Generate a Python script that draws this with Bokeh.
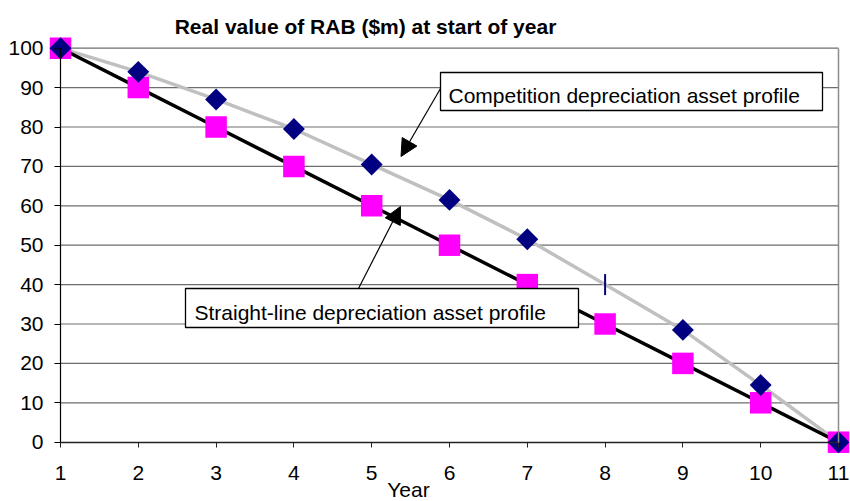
import math
from bokeh.plotting import figure
from bokeh.models import (Range1d, LinearAxis, FixedTicker, Label, Arrow, NormalHead,
                          BoxAnnotation)
from bokeh.embed import file_html
from bokeh.resources import INLINE

# ---- data ----
years = [1, 2, 3, 4, 5, 6, 7, 8, 9, 10, 11]
competition = [100, 94, 87, 79.5, 70.5, 61.5, 51.5, 40, 28.5, 14.5, 0]
straight_line = [100, 90, 80, 70, 60, 50, 40, 30, 20, 10, 0]
y_ticks = [0, 10, 20, 30, 40, 50, 60, 70, 80, 90, 100]
title_text = "Real value of RAB ($m) at start of year"
x_label = "Year"
comp_label = "Competition depreciation asset profile"
sl_label = "Straight-line depreciation asset profile"

FONT = "Liberation Sans"
NAVY = "#000080"
MAGENTA = "#FF00FF"
GRID = "#6e6e6e"

W, H = 850, 501

# canvas-pixel -> data helpers (for annotation placement and ranges only)
PX_X = 77.8
PX_Y = 3.94
X0_PX = 60.0
Y0_PX = 441.7


def dx(px):
    return years[0] + (px - X0_PX) / PX_X


def dy(py):
    return y_ticks[0] + (Y0_PX - py) / PX_Y


p = figure(width=W, height=H,
           x_range=Range1d(dx(0), dx(W)), y_range=Range1d(dy(H), dy(0)),
           output_backend="svg", toolbar_location=None,
           x_axis_location=None, y_axis_location=None, title_location=None,
           min_border_left=0, min_border_right=0, min_border_top=0, min_border_bottom=0,
           outline_line_color=None, background_fill_color="white", border_fill_color="white")
p.xgrid.visible = False
p.ygrid.visible = False

# axes at fixed locations
yax = LinearAxis(fixed_location=years[0], bounds=(y_ticks[0], y_ticks[-1]),
                 ticker=FixedTicker(ticks=y_ticks, minor_ticks=[]))
yax.axis_line_color = "black"
yax.axis_line_width = 1.2
yax.major_tick_line_color = "black"
yax.major_tick_out = 6
yax.major_tick_in = 0
yax.minor_tick_out = 0
yax.minor_tick_in = 0
yax.major_label_standoff = 11
yax.major_label_text_font = FONT
yax.major_label_text_font_size = "21px"
yax.major_label_text_color = "black"
p.add_layout(yax, "left")

xax = LinearAxis(fixed_location=y_ticks[0], bounds=(years[0], years[-1]),
                 ticker=FixedTicker(ticks=years, minor_ticks=[]))
xax.axis_line_color = "#222222"
xax.axis_line_width = 1.5
xax.major_tick_line_color = "#222222"
xax.major_tick_out = 5
xax.major_tick_in = 0
xax.minor_tick_out = 0
xax.minor_tick_in = 0
xax.major_label_standoff = 19
xax.major_label_text_font = FONT
xax.major_label_text_font_size = "21px"
xax.major_label_text_color = "black"
p.add_layout(xax, "below")

rax = LinearAxis(fixed_location=years[-1], bounds=(y_ticks[0], y_ticks[-1]),
                 ticker=FixedTicker(ticks=[], minor_ticks=[]))
rax.axis_line_color = "#8c8c8c"
rax.axis_line_width = 1.5
rax.major_tick_out = 0
rax.major_tick_in = 0
rax.minor_tick_out = 0
rax.minor_tick_in = 0
rax.major_label_text_alpha = 0
p.add_layout(rax, "right")

# horizontal gridlines
gy = y_ticks[1:]
p.segment(x0=[years[0]] * len(gy), x1=[years[-1]] * len(gy), y0=gy, y1=gy,
          line_color=GRID, line_width=1.2)

# series lines
p.line(years, competition, line_color="#C0C0C0", line_width=3.5)
p.line(years, straight_line, line_color="black", line_width=3.5)

# markers
p.scatter(years, straight_line, marker="square", size=21.5,
          fill_color=MAGENTA, line_color=None)

glitch = {7}
cx = [years[i] for i in range(len(years)) if i not in glitch]
cy = [competition[i] for i in range(len(years)) if i not in glitch]
p.scatter(cx, cy, marker="square", angle=math.pi / 4, size=15.5,
          fill_color=NAVY, line_color=None)
gx = [years[i] for i in sorted(glitch)]
gyy = [competition[i] for i in sorted(glitch)]
p.scatter(gx, gyy, marker="dash", angle=math.pi / 2, size=21,
          line_color=NAVY, line_width=2)

# callout boxes
box1 = BoxAnnotation(left=dx(440), right=dx(822), top=dy(72), bottom=dy(110),
                     fill_color="white", fill_alpha=1.0,
                     line_color="black", line_alpha=1.0, line_width=1.3)
p.add_layout(box1)
p.add_layout(Label(x=dx(448), y=dy(95), text=comp_label, text_font=FONT,
                   text_font_size="21px", text_color="black", text_baseline="alphabetic"))
p.add_layout(Arrow(x_start=dx(440), y_start=dy(88), x_end=dx(400.5), y_end=dy(156),
                   line_color="black", line_width=1.2,
                   end=NormalHead(size=17, fill_color="black", line_color="black")))

box2 = BoxAnnotation(left=dx(185), right=dx(578), top=dy(288), bottom=dy(327),
                     fill_color="white", fill_alpha=1.0,
                     line_color="black", line_alpha=1.0, line_width=1.3)
p.add_layout(box2)
p.add_layout(Label(x=dx(194), y=dy(311.5), text=sl_label, text_font=FONT,
                   text_font_size="21px", text_color="black", text_baseline="alphabetic"))
p.add_layout(Arrow(x_start=dx(358), y_start=dy(288), x_end=dx(400), y_end=dy(206),
                   line_color="black", line_width=1.2,
                   end=NormalHead(size=17, fill_color="black", line_color="black")))

# title and axis label
p.add_layout(Label(x=dx(365), y=dy(26), text=title_text, text_font=FONT,
                   text_font_size="21px", text_font_style="bold", text_color="black",
                   text_align="center", text_baseline="alphabetic"))
p.add_layout(Label(x=dx(408), y=dy(489), text=x_label, text_font=FONT,
                   text_font_size="21px", text_color="black",
                   text_align="center", text_baseline="alphabetic"))

open("out.html", "w").write(file_html(p, INLINE))
